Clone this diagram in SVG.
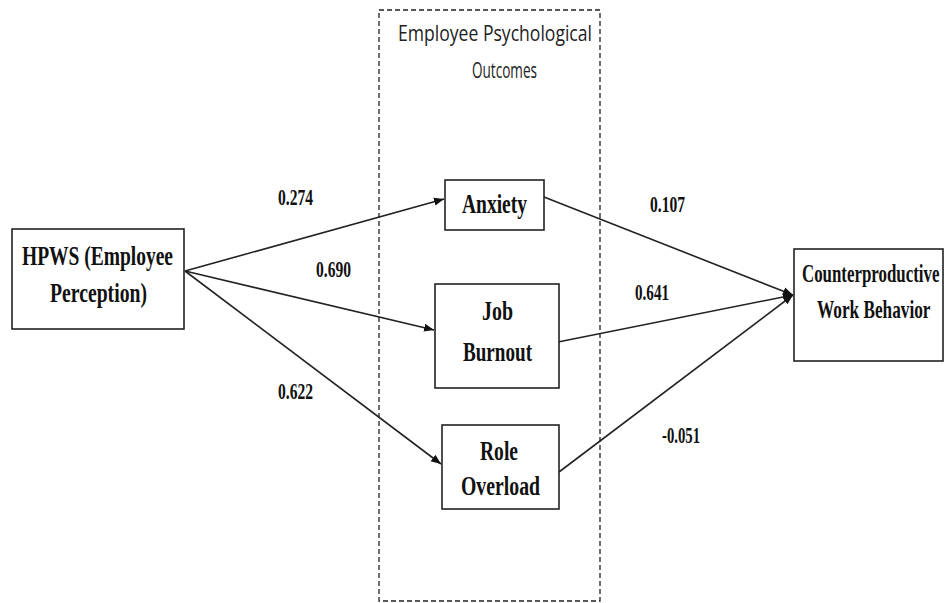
<svg xmlns="http://www.w3.org/2000/svg" width="944" height="603" viewBox="0 0 944 603">
<style>
.box{fill:#fff;stroke:#222;stroke-width:1.6}
.t{font-family:"Liberation Serif","Times New Roman",serif;font-weight:bold;fill:#111;text-anchor:start}
.n{font-family:"Liberation Serif","Times New Roman",serif;font-weight:bold;fill:#111;font-size:23px}
.c{stroke:#222;stroke-width:1.6;fill:none}
.title{font-family:"Open Sans","Noto Sans",sans-serif;fill:#222;font-size:22px}
</style>
<defs>
<marker id="ah" viewBox="0 0 10 10" refX="10" refY="5" markerWidth="10" markerHeight="10" markerUnits="userSpaceOnUse" orient="auto">
<path d="M0,1 L10,5 L0,9 z" fill="#111"/>
</marker>
</defs>
<rect width="944" height="603" fill="#fff"/>
<g id="group-outcomes">
<rect x="379" y="10" width="221" height="591" fill="none" stroke="#222" stroke-width="1.3" stroke-dasharray="5,3"/>
<text class="title" x="398" y="41" textLength="194" lengthAdjust="spacingAndGlyphs">Employee Psychological</text>
<text class="title" x="472" y="78" textLength="65" lengthAdjust="spacingAndGlyphs">Outcomes</text>
</g>
<g id="connectors">
<line class="c" x1="185" y1="271" x2="444" y2="199" marker-end="url(#ah)"/>
<line class="c" x1="185" y1="271" x2="434" y2="330" marker-end="url(#ah)"/>
<line class="c" x1="185" y1="271" x2="441" y2="464" marker-end="url(#ah)"/>
<line class="c" x1="544" y1="197" x2="793" y2="295" marker-end="url(#ah)"/>
<line class="c" x1="553" y1="343" x2="793" y2="295" marker-end="url(#ah)"/>
<line class="c" x1="559" y1="472" x2="793" y2="295" marker-end="url(#ah)"/>
<text class="n" x="278" y="205" textLength="35" lengthAdjust="spacingAndGlyphs">0.274</text>
<text class="n" x="316" y="277" textLength="35" lengthAdjust="spacingAndGlyphs">0.690</text>
<text class="n" x="278" y="399" textLength="35" lengthAdjust="spacingAndGlyphs">0.622</text>
<text class="n" x="650" y="212" textLength="35" lengthAdjust="spacingAndGlyphs">0.107</text>
<text class="n" x="635" y="300" textLength="34" lengthAdjust="spacingAndGlyphs">0.641</text>
<text class="n" x="662" y="443" textLength="38" lengthAdjust="spacingAndGlyphs">-0.051</text>
</g>
<g id="node-hpws">
<rect class="box" x="12" y="229" width="172" height="100"/>
<text class="t" x="22" y="265" font-size="28" textLength="151" lengthAdjust="spacingAndGlyphs">HPWS (Employee</text>
<text class="t" x="50" y="302" font-size="28" textLength="97" lengthAdjust="spacingAndGlyphs">Perception)</text>
</g>
<g id="node-anxiety">
<rect class="box" x="445" y="180" width="99" height="50"/>
<text class="t" x="462" y="213" font-size="27" textLength="65" lengthAdjust="spacingAndGlyphs">Anxiety</text>
</g>
<g id="node-burnout">
<rect class="box" x="435" y="284" width="124" height="104"/>
<text class="t" x="482" y="320" font-size="27" textLength="31" lengthAdjust="spacingAndGlyphs">Job</text>
<text class="t" x="463" y="361" font-size="27" textLength="69" lengthAdjust="spacingAndGlyphs">Burnout</text>
</g>
<g id="node-overload">
<rect class="box" x="442" y="425" width="117" height="84"/>
<text class="t" x="480" y="460" font-size="27" textLength="38" lengthAdjust="spacingAndGlyphs">Role</text>
<text class="t" x="461" y="495" font-size="27" textLength="79" lengthAdjust="spacingAndGlyphs">Overload</text>
</g>
<g id="node-cwb">
<rect class="box" x="794" y="249" width="149" height="112"/>
<text class="t" font-size="25" transform="translate(802,282) scale(0.675,1)">Counterproductive</text>
<text class="t" font-size="25" transform="translate(817,318) scale(0.69,1)">Work Behavior</text>
</g>
</svg>
